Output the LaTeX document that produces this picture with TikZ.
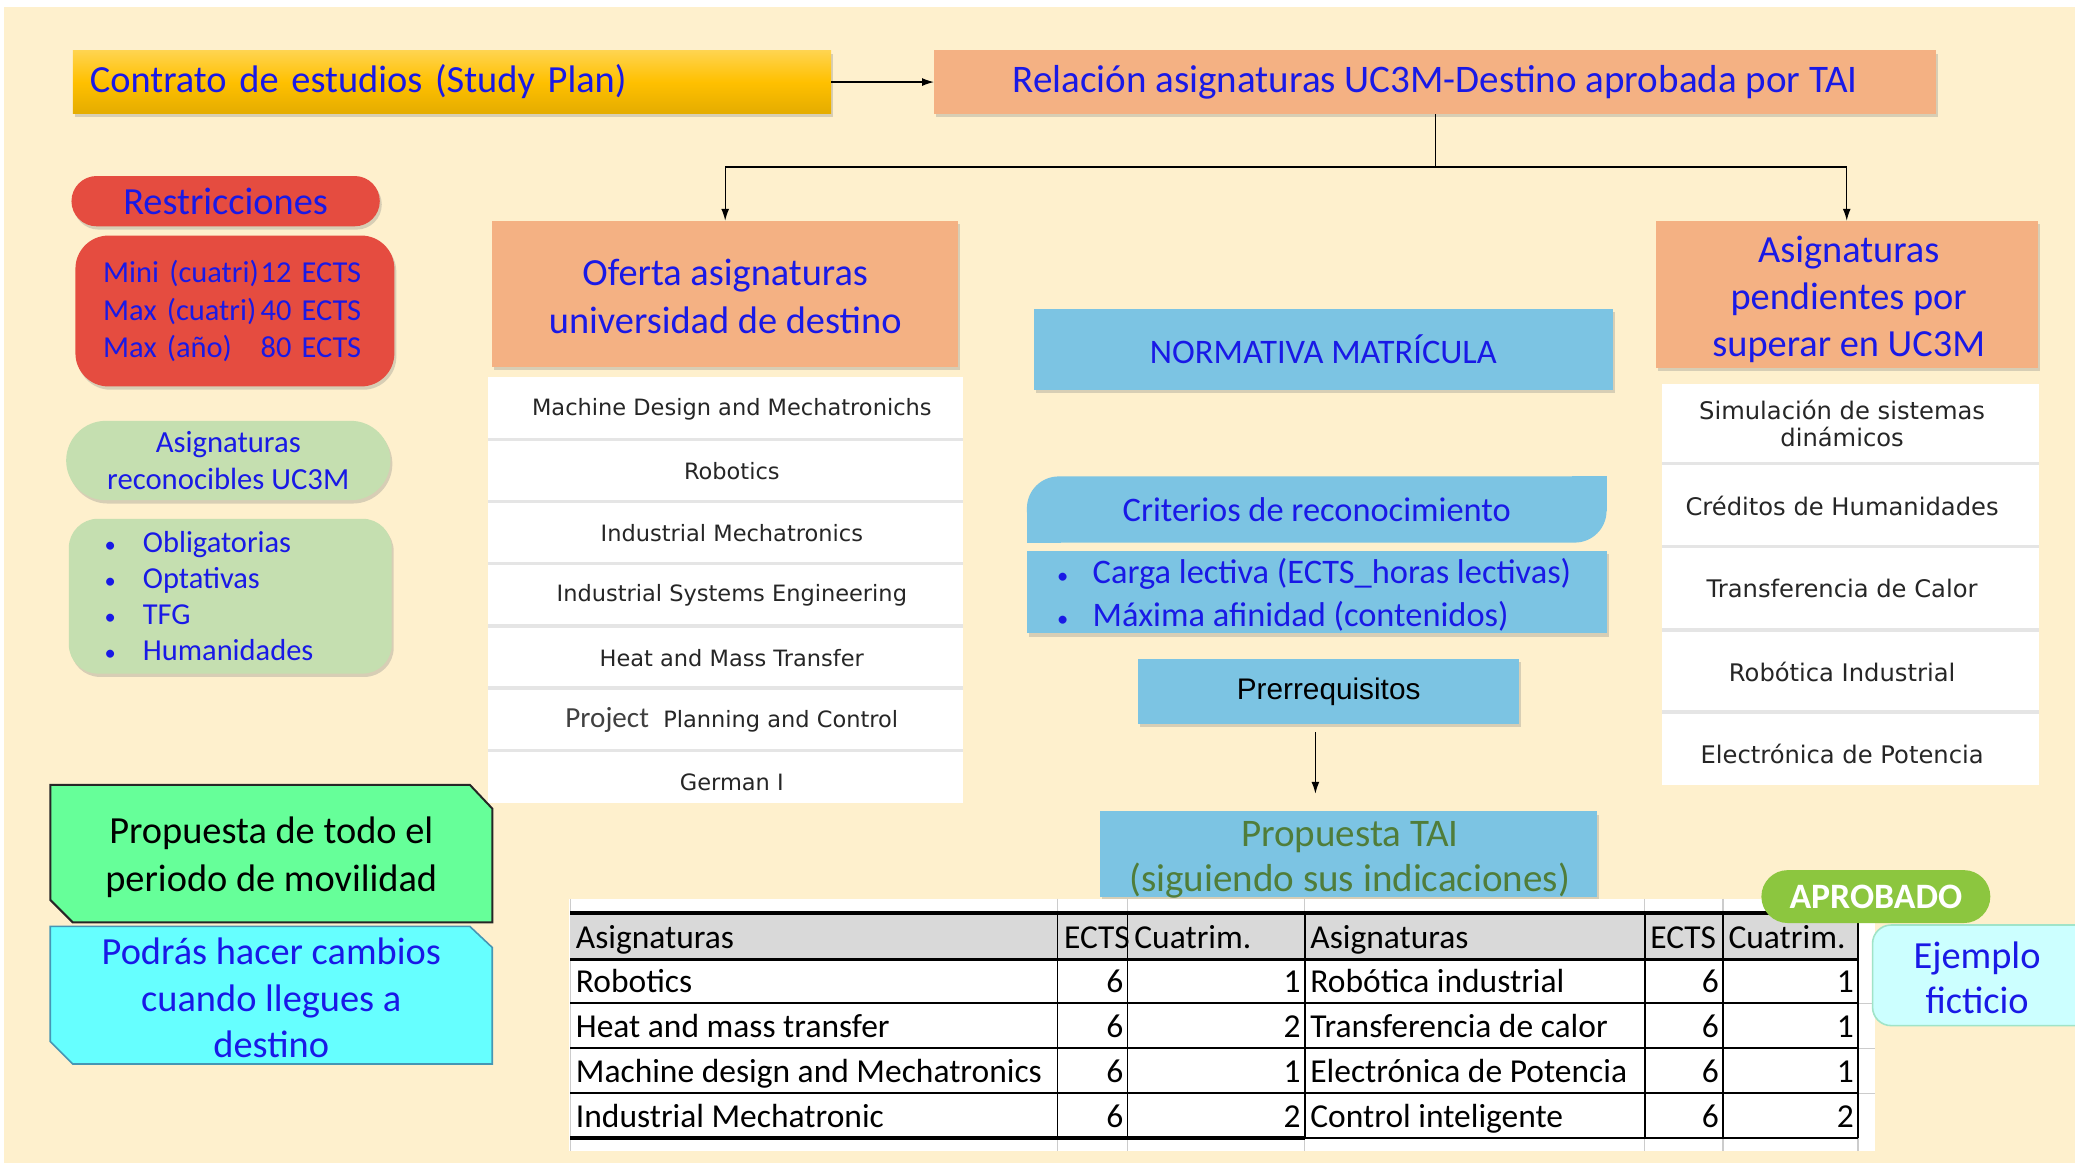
\documentclass[tikz,border=0pt]{standalone}
\usepackage{fontspec}
\setmainfont{Carlito}
\newfontfamily\listafont{DejaVu Sans}
\newfontfamily\arialfont{Liberation Sans}
\usetikzlibrary{shadows,arrows.meta}
\definecolor{crema}{RGB}{254,240,205}
\definecolor{salmon}{RGB}{244,177,131}
\definecolor{celeste}{RGB}{124,196,227}
\definecolor{rojo}{RGB}{229,76,64}
\definecolor{verdeclaro}{RGB}{197,223,176}
\definecolor{verdevivo}{RGB}{102,255,153}
\definecolor{cian}{RGB}{102,255,255}
\definecolor{cianclaro}{RGB}{204,255,255}
\definecolor{bordecian}{RGB}{70,150,180}
\definecolor{bordeej}{RGB}{160,228,200}
\definecolor{azul}{RGB}{25,25,230}
\definecolor{verdetxt}{RGB}{80,125,58}
\definecolor{aprob}{RGB}{140,198,63}
\definecolor{gris}{RGB}{217,217,217}
\definecolor{oroA}{RGB}{255,212,80}
\definecolor{oro}{RGB}{255,192,0}
\definecolor{oroC}{RGB}{228,172,0}
\newcommand\fsz[2]{\fontsize{#1}{#2}\selectfont}
\newcommand\punto[1]{\makebox[#1][l]{\fsz{17}{17}•}}
\tikzset{
	caja/.style={rectangle,inner sep=0pt,align=center,text=azul},
	sombra/.style={drop shadow={opacity=0.3,shadow xshift=1.5pt,shadow yshift=-2.5pt}},
	flecha/.style={-{Latex[length=9pt,width=6pt]},line width=1pt},
	lista/.style={inner sep=0pt,align=center,text=black!85,font=\listafont\fsz{17}{20}},
	separa/.style={draw=black!10,line width=2.5pt},
	celda/.style={inner sep=0pt,text=black,font=\fsz{25.3}{30}},
	rejilla/.style={draw=black!20,line width=0.8pt}
}
\begin{document}
\begin{tikzpicture}[x=1pt,y=-1pt]
	\useasboundingbox (0,0) rectangle (1568,879);
	\fill[white] (0,0) rectangle (1568,879);
	\fill[crema] (3,5) rectangle (1568,879);
	
	\node[caja,sombra,top color=oroA,bottom color=oroC,middle color=oro,minimum width=573pt,minimum height=48pt,text width=547pt,inner xsep=13pt,align=left,font=\fsz{29}{34}] (contrato) at (341.5,62) {Contrato de estudios (Study Plan)};
	\node[caja,sombra,fill=salmon,minimum width=757pt,minimum height=48pt,font=\fsz{29.5}{34}] (relacion) at (1084.5,62) {Relación asignaturas UC3M-Destino aprobada por TAI};
	\draw[flecha] (contrato) -- (relacion);
	
	\node[caja,sombra,fill=salmon,minimum width=352pt,minimum height=110pt] (oferta) at (548,222) {};
	\node[caja,font=\fsz{29}{36}] (ofertatxt) at (548,224) {Oferta asignaturas\\universidad de destino};
	\node[caja,sombra,fill=salmon,minimum width=289pt,minimum height=111pt] (pendientes) at (1395.5,222.5) {};
	\node[caja,font=\fsz{29}{35.5}] (pendtxt) at (1397,226.5) {Asignaturas\\pendientes por\\superar en UC3M};
	\draw[flecha] (relacion.south) -- ++(0,40) -| (oferta.north);
	\draw[flecha] (relacion.south) -- ++(0,40) -| (pendientes.north);
	
	\node[caja,sombra,fill=rojo,rounded corners=19pt,minimum width=233pt,minimum height=38pt,font=\fsz{29}{34}] (restric) at (170.5,152) {Restricciones};
	\node[caja,sombra,fill=rojo,rounded corners=25pt,minimum width=241pt,minimum height=114pt,text width=199pt,inner xsep=21pt,align=left,font=\fsz{23}{28}] (limites) at (177.5,235) {\makebox[119pt][l]{Mini (cuatri)}12 ECTS\\\makebox[119pt][l]{Max (cuatri)}40 ECTS\\\makebox[119pt][l]{Max (año)}80 ECTS};
	\node[caja,sombra,fill=verdeclaro,rounded corners=30pt,minimum width=245pt,minimum height=60pt,font=\fsz{23.2}{28}] (reconoc) at (172.5,348) {Asignaturas\\reconocibles UC3M};
	\node[caja,sombra,fill=verdeclaro,rounded corners=22pt,minimum width=244pt,minimum height=117pt,text width=190pt,align=left,font=\fsz{23}{27.3}] (tipos) at (174,450.5) {\punto{29pt}Obligatorias\\\punto{29pt}Optativas\\\punto{29pt}TFG\\\punto{29pt}Humanidades};
	
	\fill[white] (369,285) rectangle (728,607);
	\foreach \y in {332,379,...,567} \draw[separa] (369,\y) -- (728,\y);
	\foreach \t [count=\i] in {Machine Design and Mechatronichs,Robotics,Industrial Mechatronics,Industrial Systems Engineering,Heat and Mass Transfer,{{\rmfamily\fsz{22}{26}\color{black!75}Project}\ \ Planning and Control},German I}
		\node[lista] (of\i) at (553,262+47*\i) {\t};
	
	\fill[white] (1256,290) rectangle (1541,593);
	\foreach \y in {350,413,476,538} \draw[separa] (1256,\y) -- (1541,\y);
	\foreach \t/\y [count=\i] in {Simulación de sistemas\\dinámicos/320,Créditos de Humanidades/382,Transferencia de Calor/445,Robótica Industrial/508,Electrónica de Potencia/570}
		\node[lista,font=\listafont\fsz{18.3}{20}] (pe\i) at (1392,\y) {\t};
	
	\node[caja,sombra,fill=celeste,minimum width=438pt,minimum height=61pt,font=\fsz{26}{30}] (normativa) at (1000,264) {NORMATIVA MATRÍCULA};
	\node[caja,fill=celeste,rounded corners=24pt,minimum width=438pt,minimum height=50pt,font=\fsz{26}{32}] (criterios) at (995,385) {Criterios de reconocimiento};
	\fill[celeste] (criterios.south west) rectangle ++(26,-26);
	\fill[celeste] (criterios.north east) rectangle ++(-26,26);
	\node[caja,sombra,fill=celeste,minimum width=438pt,minimum height=62pt] (carga) at (995,447.5) {};
	\node[caja,align=left,font=\fsz{26}{32}] (cargatxt) at (993,449.5) {\punto{27pt}Carga lectiva (ECTS\_horas lectivas)\\\punto{27pt}Máxima afinidad (contenidos)};
	\node[caja,sombra,fill=celeste,text=black,minimum width=288pt,minimum height=49pt,font=\arialfont\fsz{22.5}{28}] (prer) at (1004,522.5) {Prerrequisitos};
	\node[caja,sombra,fill=celeste,minimum width=376pt,minimum height=65pt] (tai) at (1019,645.5) {};
	\node[caja,text=verdetxt,font=\fsz{29.5}{34}] (taitxt) at (1020,649.5) {Propuesta TAI\\(siguiendo sus indicaciones)};
	\draw[flecha] ([xshift=-10pt,yshift=-6pt]prer.south) -- ([xshift=-25pt,yshift=13pt]tai.north);
	
	\fill[white] (430,679) rectangle (1417,870);
	\foreach \x in {431,799,852,986,1243,1302,1404} \draw[rejilla] (\x,679) -- (\x,870);
	\foreach \y in {758,792,826} \draw[rejilla] (1404,\y) -- (1417,\y);
	\fill[gris] (431,690) rectangle (1404,725);
	\draw[line width=3pt] (431,690) -- (1404,690);
	\draw[line width=1.8pt] (431,725) -- (1404,725);
	\foreach \y in {758,792,826} \draw[line width=1.2pt] (431,\y) -- (1404,\y);
	\draw[line width=3pt] (431,860) -- (986,860);
	\draw[line width=1.2pt] (986,860) -- (1404,860);
	\foreach \x in {799,852,986,1243,1302,1404} \draw[line width=1.2pt] (\x,690) -- (\x,860);
	\foreach \x/\t [count=\i] in {435/Asignaturas,804/ECTS,857/Cuatrim.,990/Asignaturas,1247/ECTS,1306/Cuatrim.}
		\node[celda,anchor=base west] (h\i) at (\x,717) {\t};
	\foreach \a/\b/\c/\d/\e/\f [count=\r] in {Robotics/6/1/Robótica industrial/6/1,Heat and mass transfer/6/2/Transferencia de calor/6/1,Machine design and Mechatronics/6/1/Electrónica de Potencia/6/1,Industrial Mechatronic/6/2/Control inteligente/6/2}{
		\node[celda,anchor=base west] (a\r) at (435,716+34*\r) {\a};
		\node[celda,anchor=base east] (b\r) at (849,716+34*\r) {\b};
		\node[celda,anchor=base east] (c\r) at (983,716+34*\r) {\c};
		\node[celda,anchor=base west] (d\r) at (990,716+34*\r) {\d};
		\node[celda,anchor=base east] (e\r) at (1299,716+34*\r) {\e};
		\node[celda,anchor=base east] (f\r) at (1401,716+34*\r) {\f};
	}
	
	\node[caja,fill=aprob,text=white,rounded corners=20pt,minimum width=173pt,minimum height=40pt,font=\bfseries\fsz{27}{30}] (aprobado) at (1417.5,677.5) {APROBADO};
	\draw[fill=cianclaro,draw=bordeej,line width=1.2pt,rounded corners=14pt] (1415,699) rectangle (1590,775);
	\node[caja,font=\fsz{29}{34}] (ejemplo) at (1494,739) {Ejemplo\\ficticio};
	
	\draw[fill=verdevivo,draw=black!85,line width=1.5pt] (38,593) -- (355,593) -- (372,611) -- (372,697) -- (55,697) -- (38,680) -- cycle;
	\node[caja,text=black,font=\fsz{29}{36}] (movilidad) at (205,648) {Propuesta de todo el\\periodo de movilidad};
	\draw[fill=cian,draw=bordecian,line width=1.2pt] (38,700) -- (355,700) -- (372,716) -- (372,804) -- (55,804) -- (38,787) -- cycle;
	\node[caja,font=\fsz{29}{35}] (cambios) at (205,754) {Podrás hacer cambios\\cuando llegues a\\destino};
\end{tikzpicture}
\end{document}
